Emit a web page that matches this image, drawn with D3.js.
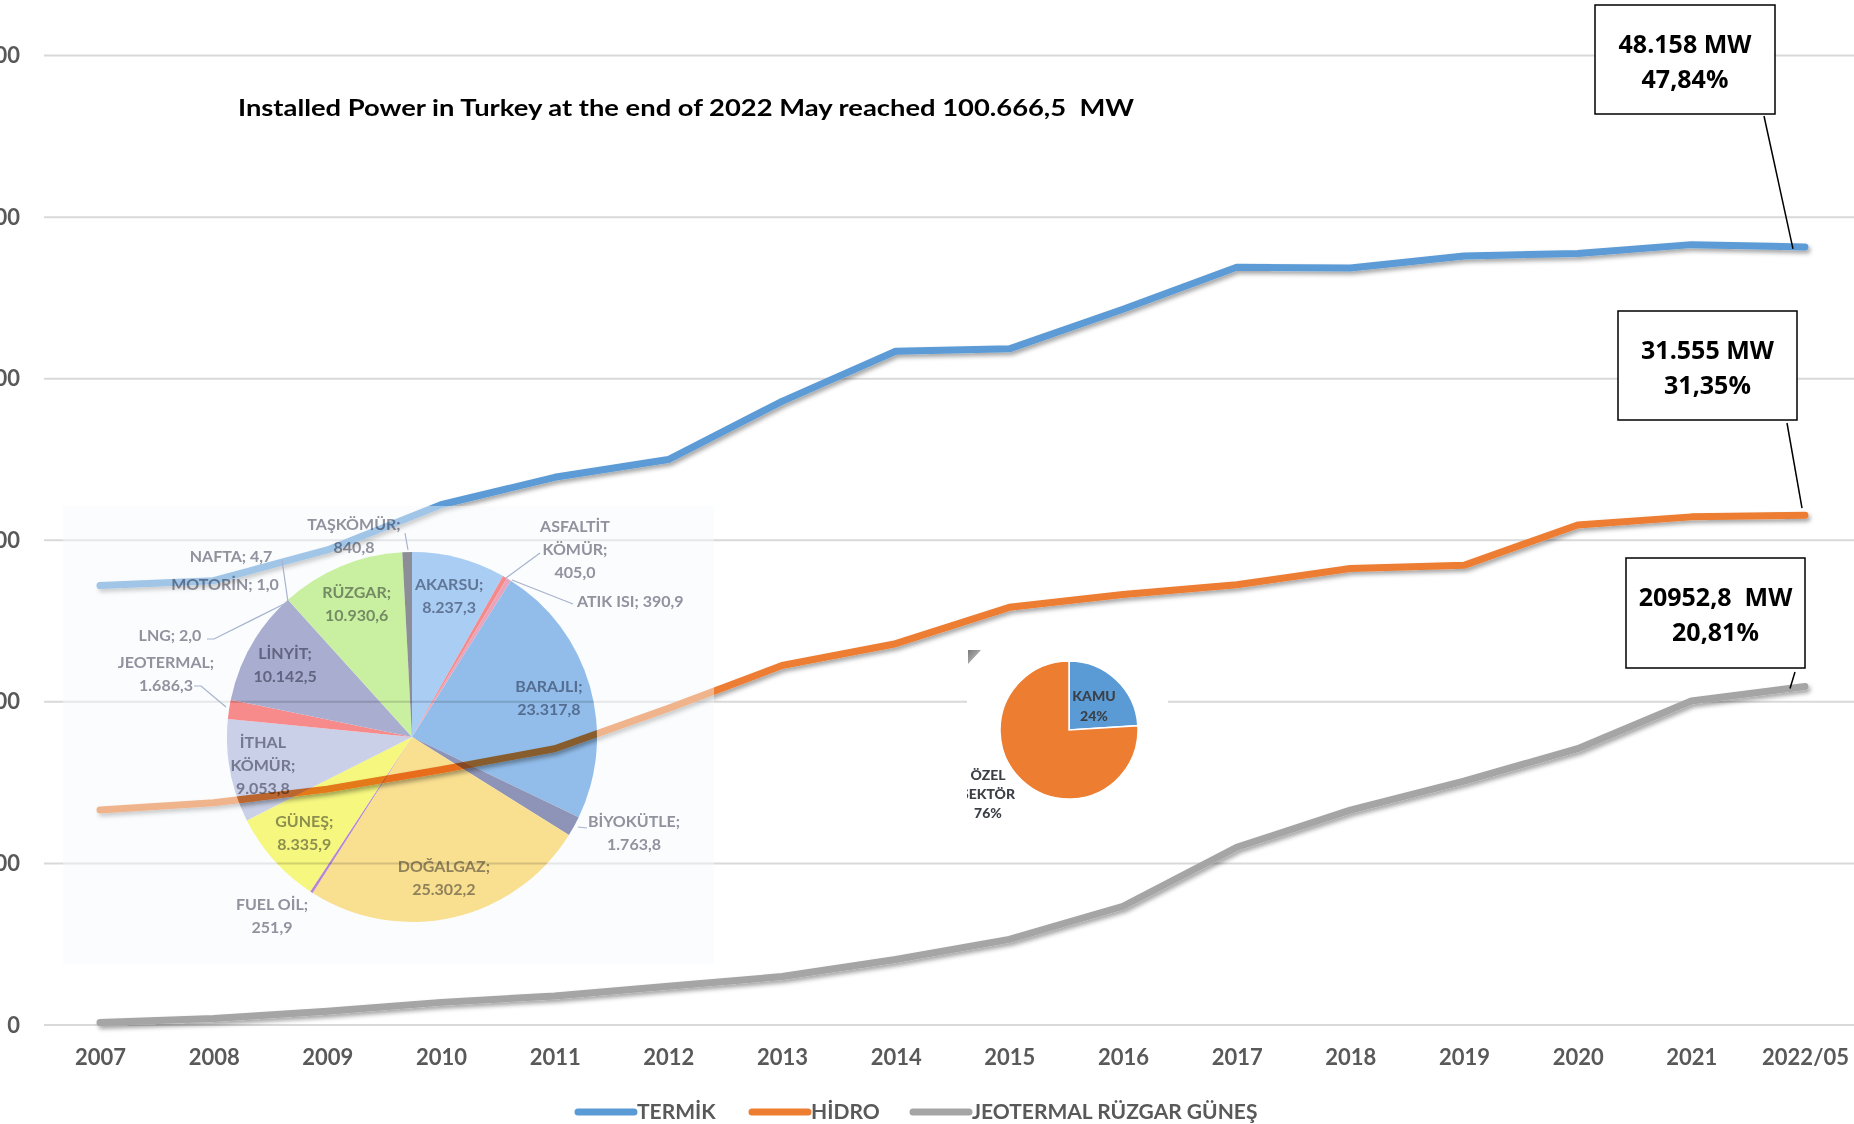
<!DOCTYPE html>
<html><head><meta charset="utf-8">
<script src="https://cdn.jsdelivr.net/npm/d3@7"></script>
<style>html,body{margin:0;padding:0;background:#fff;} svg{display:block;}</style>
</head><body><svg id="c" width="1854" height="1124"></svg>
<script>
// ---------------- DATA ----------------
const years = ["2007","2008","2009","2010","2011","2012","2013","2014","2015","2016","2017","2018","2019","2020","2021","2022/05"];
const termik = [27200, 27500, 29400, 32200, 33900, 35000, 38600, 41700, 41850, 44300, 46900, 46850, 47600, 47750, 48300, 48158];
const hidro = [13300, 13750, 14600, 15800, 17100, 19600, 22250, 23600, 25850, 26650, 27250, 28250, 28450, 30950, 31450, 31555];
const yenilenebilir = [150, 400, 850, 1400, 1800, 2400, 3000, 4050, 5300, 7350, 11000, 13300, 15100, 17100, 20050, 20953];
const yTicks = [0, 10000, 20000, 30000, 40000, 50000, 60000];
const seriesNames = ["TERMİK", "HİDRO", "JEOTERMAL RÜZGAR GÜNEŞ"];

const pieNames = ["AKARSU","ASFALTİT KÖMÜR","ATIK ISI","BARAJLI","BİYOKÜTLE","DOĞALGAZ","FUEL OİL","GÜNEŞ","İTHAL KÖMÜR","JEOTERMAL","LİNYİT","LNG","MOTORİN","NAFTA","RÜZGAR","TAŞKÖMÜR"];
const pieValues = [8237.3, 405.0, 390.9, 23317.8, 1763.8, 25302.2, 251.9, 8335.9, 9053.8, 1686.3, 10142.5, 2.0, 1.0, 4.7, 10930.6, 840.8];

const ownerNames = ["KAMU", "ÖZEL SEKTÖR"];
const ownerValues = [24, 76];

const titleText = "Installed Power in Turkey at the end of 2022 May reached 100.666,5  MW";
const calloutText = [["48.158 MW","47,84%"], ["31.555 MW","31,35%"], ["20952,8  MW","20,81%"]];

// ---------------- STYLE / LAYOUT ----------------
const W = 1854, H = 1124;
const seriesColors = ["#5b9bd5", "#ed7d31", "#a5a5a5"];
const pieColors = {
  "AKARSU":"#aacdf4","ASFALTİT KÖMÜR":"#f48a8c","ATIK ISI":"#e9a3bb","BARAJLI":"#92bdea",
  "BİYOKÜTLE":"#8e94b7","DOĞALGAZ":"#f9df90","FUEL OİL":"#b584d6","GÜNEŞ":"#f5f77e",
  "İTHAL KÖMÜR":"#c9d0e7","JEOTERMAL":"#f78a8b","LİNYİT":"#a9adcf","LNG":"#a9adcf",
  "MOTORİN":"#b0b4d4","NAFTA":"#b8c0da","RÜZGAR":"#c9f0a0","TAŞKÖMÜR":"#8c8e97"
};
const pieCx = 412, pieCy = 737, pieR = 185;
const pieLabelLayout = {
  "AKARSU":{f:0.79}, "BARAJLI":{f:0.77}, "DOĞALGAZ":{f:0.78}, "GÜNEŞ":{f:0.78},
  "İTHAL KÖMÜR":{f:0.82, split:true}, "LİNYİT":{f:0.79}, "RÜZGAR":{f:0.78},
  "TAŞKÖMÜR":{dx:-58, dy:-201}, "ASFALTİT KÖMÜR":{dx:163, dy:-188, split:true},
  "ATIK ISI":{dx:165, dy:-136, inline:true, anchor:"start"},
  "NAFTA":{dx:-181, dy:-181, inline:true}, "MOTORİN":{dx:-187, dy:-153, inline:true},
  "LNG":{dx:-242, dy:-102, inline:true}, "JEOTERMAL":{dx:-246, dy:-63},
  "BİYOKÜTLE":{dx:222, dy:96}, "FUEL OİL":{dx:-140, dy:179}
};
const pieLeaders = [
  [[-7,-204],[-4,-187]], [[128,-184],[94,-159]], [[161,-133],[100,-157]],
  [[-130,-177],[-124,-135]], [[-205,-98],[-198,-98],[-124,-135]],
  [[-218,-51],[-211,-51],[-186,-30]], [[175,91],[166,90]]
];

const svg = d3.select("#c");
const defs = svg.append("defs");
const flt = defs.append("filter").attr("id","sh").attr("filterUnits","userSpaceOnUse")
  .attr("x",0).attr("y",0).attr("width",W).attr("height",H);
flt.append("feDropShadow").attr("dx",2).attr("dy",3).attr("stdDeviation",2)
  .attr("flood-color","#000").attr("flood-opacity",0.35);

const x = d3.scalePoint().domain(years).range([100, 1805]);
const y = d3.scaleLinear().domain([0, 60000]).range([1025, 55.6]);

// gridlines
svg.append("g").selectAll("line").data(yTicks).join("line")
  .attr("x1",44).attr("x2",W).attr("y1",d=>y(d)).attr("y2",d=>y(d))
  .attr("stroke","#d9d9d9").attr("stroke-width",2);

// y axis labels (cut off at the left edge, as in the reference)
const yAxis = d3.axisLeft(y).tickValues(yTicks).tickSize(0).tickPadding(0).tickFormat(d3.format("d"));
const yg = svg.append("g").attr("transform","translate(20,0)").call(yAxis);
yg.select(".domain").remove();
yg.selectAll("text").attr("font-family","Lato, sans-serif").attr("font-weight","bold")
  .attr("font-size",22).attr("fill","#595959");

// x axis labels
const xAxis = d3.axisBottom(x).tickSize(0).tickPadding(0);
const xg = svg.append("g").attr("transform","translate(0,1057)").call(xAxis);
xg.select(".domain").remove();
xg.selectAll("text").attr("font-family","Lato, sans-serif").attr("font-weight","bold")
  .attr("font-size",22).attr("fill","#595959").attr("dy","0.35em");

// lines
const allSeries = [yenilenebilir, hidro, termik];
const allColors = [seriesColors[2], seriesColors[1], seriesColors[0]];
const lineGen = d3.line().x((d,i)=>x(years[i])).y(d=>y(d));
svg.append("g").selectAll("path").data(allSeries).join("path")
  .attr("d", d=>lineGen(d)).attr("fill","none")
  .attr("stroke",(d,i)=>allColors[i]).attr("stroke-width",7)
  .attr("stroke-linecap","round").attr("stroke-linejoin","round")
  .attr("filter","url(#sh)");

// ---------------- big pie panel ----------------
const pg = svg.append("g");
const px0 = 63, py0 = 506, pw = 651, ph = 458;
const holePath = `M${px0},${py0}h${pw}v${ph}h${-pw}Z M${pieCx+pieR},${pieCy} A${pieR},${pieR} 0 1,0 ${pieCx-pieR},${pieCy} A${pieR},${pieR} 0 1,0 ${pieCx+pieR},${pieCy}Z`;
pg.append("path").attr("d",holePath).attr("fill-rule","evenodd")
  .attr("fill","#f3f8fd").attr("opacity",0.45);

const pie = d3.pie().sort(null).value(d=>d)(pieValues);
const arc = d3.arc().innerRadius(0).outerRadius(pieR);
const slices = pg.append("g").attr("transform",`translate(${pieCx},${pieCy})`)
  .style("mix-blend-mode","multiply");
slices.selectAll("path").data(pie).join("path")
  .attr("d",arc).attr("fill",(d,i)=>pieColors[pieNames[i]]);

pg.append("g").attr("transform",`translate(${pieCx},${pieCy})`)
  .selectAll("path").data(pieLeaders).join("path")
  .attr("d",d=>d3.line()(d)).attr("fill","none")
  .attr("stroke","#a7b3cc").attr("stroke-width",1.2);

const trFmt = d3.formatLocale({decimal:",", thousands:".", grouping:[3], currency:["",""]}).format(",.1f");
const labG = pg.append("g").attr("transform",`translate(${pieCx},${pieCy})`)
  .style("mix-blend-mode","multiply")
  .attr("font-family","Lato, sans-serif").attr("font-weight","bold").attr("font-size",16)
  .attr("fill","#93949f");
const lh = 23;
pie.forEach((d,i)=>{
  const name = pieNames[i], L = pieLabelLayout[name];
  const val = trFmt(pieValues[i]);
  let lines;
  if (L.inline) lines = [name + "; " + val];
  else if (L.split) { const p = name.split(" "); lines = [p[0], p[1] + ";", val]; }
  else lines = [name + ";", val];
  let cx, cy;
  if (L.f !== undefined) {
    const a = (d.startAngle + d.endAngle) / 2;
    cx = Math.sin(a) * pieR * L.f; cy = -Math.cos(a) * pieR * L.f;
  } else { cx = L.dx; cy = L.dy; }
  const t = labG.append("text").attr("text-anchor", L.anchor || "middle");
  lines.forEach((s,k)=>{
    t.append("tspan").attr("x",cx).attr("y", cy + (k - (lines.length-1)/2) * lh)
      .attr("dy","0.36em").text(s);
  });
});

// ---------------- small ownership pie ----------------
const sp = svg.append("g");
const sx0 = 967, sy0 = 649, sw = 201, sh = 191;
defs.append("clipPath").attr("id","spc").append("rect")
  .attr("x",sx0).attr("y",sy0).attr("width",sw).attr("height",sh);
sp.append("rect").attr("x",sx0).attr("y",sy0).attr("width",sw).attr("height",sh).attr("fill","#fff");
const grad = defs.append("linearGradient").attr("id","tg").attr("x1","0").attr("y1","0").attr("x2","1").attr("y2","1");
grad.append("stop").attr("offset","0").attr("stop-color","#7a7a7a");
grad.append("stop").attr("offset","1").attr("stop-color","#d0d0d0");
sp.append("path").attr("d",`M${sx0+1},${sy0+1}h13l-13,14Z`).attr("fill","url(#tg)");
const opie = d3.pie().sort(null).value(d=>d)(ownerValues);
const oarc = d3.arc().innerRadius(0).outerRadius(69);
const osl = sp.append("g").attr("transform","translate(1069,730)");
osl.selectAll("path").data(opie).join("path").attr("d",oarc)
  .attr("fill",(d,i)=>[seriesColors[0], seriesColors[1]][i])
  .attr("stroke","#fff").attr("stroke-width",1.5);
const olab = sp.append("g").attr("clip-path","url(#spc)")
  .attr("font-family","Lato, sans-serif").attr("font-weight",900).attr("font-size",14)
  .attr("fill","#3b3f46").attr("text-anchor","middle");
const ot1 = olab.append("text");
[ownerNames[0], ownerValues[0] + "%"].forEach((s,k)=>ot1.append("tspan").attr("x",1094).attr("y",701 + k*20).text(s));
const ot2 = olab.append("text");
[...ownerNames[1].split(" "), ownerValues[1] + "%"].forEach((s,k)=>ot2.append("tspan").attr("x",988).attr("y",780 + k*19).text(s));

// ---------------- title ----------------
svg.append("text").attr("x",238).attr("y",116).attr("xml:space","preserve")
  .attr("font-family","Lato, sans-serif").attr("font-weight","bold").attr("font-size",23)
  .attr("textLength",896).attr("lengthAdjust","spacingAndGlyphs")
  .attr("fill","#000").text(titleText);

// ---------------- callouts ----------------
const lastIdx = years.length - 1;
const calloutBoxes = [
  {x:1595, y:5, w:180, h:109, from:[1764,116], off:[-12,2]},
  {x:1618, y:311, w:179, h:109, from:[1787,423], off:[-3,-7]},
  {x:1626, y:558, w:179, h:110, from:[1795,672], off:[-15,2]}
];
const calloutSeries = [termik, hidro, yenilenebilir];
const cg = svg.append("g");
calloutBoxes.forEach((b,i)=>{
  const px = x(years[lastIdx]) + b.off[0], py = y(calloutSeries[i][lastIdx]) + b.off[1];
  cg.append("line").attr("x1",b.from[0]).attr("y1",b.from[1]).attr("x2",px).attr("y2",py)
    .attr("stroke","#000").attr("stroke-width",1.5);
  cg.append("rect").attr("x",b.x).attr("y",b.y).attr("width",b.w).attr("height",b.h)
    .attr("fill","#fff").attr("stroke","#000").attr("stroke-width",1.5);
  const t = cg.append("text").attr("text-anchor","middle").attr("xml:space","preserve")
    .attr("font-family","'Open Sans', sans-serif").attr("font-weight","bold").attr("font-size",25).attr("fill","#000");
  calloutText[i].forEach((s,k)=>t.append("tspan").attr("x",b.x + b.w/2).attr("y",b.y + 48 + k*35).text(s));
});

// ---------------- legend ----------------
const legX = [578, 752, 913];
const lg = svg.append("g");
seriesNames.forEach((n,i)=>{
  lg.append("line").attr("x1",legX[i]).attr("x2",legX[i]+56).attr("y1",1112).attr("y2",1112)
    .attr("stroke",seriesColors[i]).attr("stroke-width",7).attr("stroke-linecap","round");
  lg.append("text").attr("x",legX[i]+59).attr("y",1119)
    .attr("font-family","Lato, sans-serif").attr("font-weight","bold").attr("font-size",21)
    .attr("fill","#595959").text(n);
});
</script></body></html>
